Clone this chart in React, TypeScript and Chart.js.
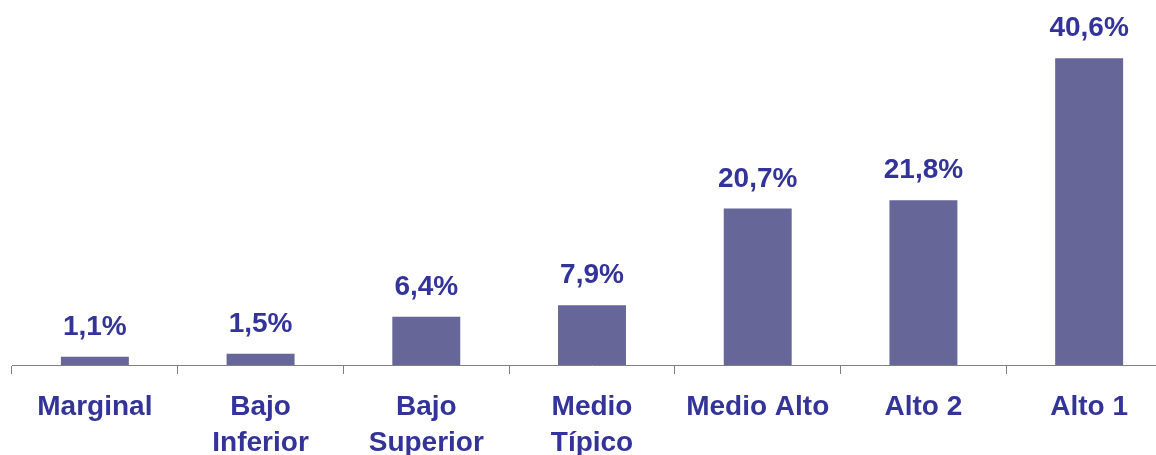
import React, { useEffect, useRef } from "react";
import { Chart, registerables } from "chart.js";

Chart.register(...registerables);

const categories: (string | string[])[] = [
  "Marginal",
  ["Bajo", "Inferior"],
  ["Bajo", "Superior"],
  ["Medio", "Típico"],
  "Medio Alto",
  "Alto 2",
  "Alto 1",
];
const values: number[] = [1.1, 1.5, 6.4, 7.9, 20.7, 21.8, 40.6];
const valueLabels: string[] = ["1,1%", "1,5%", "6,4%", "7,9%", "20,7%", "21,8%", "40,6%"];

const TEXT_COLOR = "#333399";
const BAR_COLOR = "#666699";
const FONT = "'Liberation Sans', Arial, sans-serif";

const valueLabelPlugin = {
  id: "valueLabels",
  afterDatasetsDraw(chart: any) {
    const ctx = chart.ctx;
    const meta = chart.getDatasetMeta(0);
    ctx.save();
    ctx.font = `bold 28px ${FONT}`;
    ctx.fillStyle = TEXT_COLOR;
    ctx.textAlign = "center";
    ctx.textBaseline = "alphabetic";
    meta.data.forEach((bar: any, i: number) => {
      ctx.fillText(valueLabels[i], bar.x, bar.y - 22);
    });
    ctx.restore();
  },
};

export default function App() {
  const ref = useRef<HTMLCanvasElement | null>(null);
  useEffect(() => {
    if (!ref.current) return;
    const chart = new Chart(ref.current, {
      type: "bar",
      data: {
        labels: categories,
        datasets: [
          {
            data: values,
            backgroundColor: BAR_COLOR,
            borderWidth: 0,
            barPercentage: 0.82,
            categoryPercentage: 0.5,
          },
        ],
      },
      options: {
        animation: false,
        responsive: false,
        maintainAspectRatio: false,
        layout: { padding: { left: 12, right: 8, top: 25, bottom: 0 } },
        plugins: { legend: { display: false }, tooltip: { enabled: false } },
        scales: {
          y: {
            display: false,
            min: 0,
            max: 45,
          },
          x: {
            offset: true,
            afterFit: (scale: any) => {
              scale.height = 90;
            },
            border: { display: true, color: "#808080", width: 1 },
            grid: {
              offset: true,
              drawOnChartArea: false,
              drawTicks: true,
              tickLength: 9,
              color: "#808080",
              lineWidth: 1,
            },
            ticks: {
              color: TEXT_COLOR,
              font: { family: FONT, size: 28, weight: "bold", lineHeight: 1.29 },
              padding: 15,
              maxRotation: 0,
              minRotation: 0,
              autoSkip: false,
            },
          },
        },
      },
      plugins: [valueLabelPlugin],
    });
    return () => chart.destroy();
  }, []);

  return (
    <div
      style={{
        position: "fixed",
        left: 0,
        top: 0,
        width: 1156,
        height: 455,
        overflow: "hidden",
        background: "#ffffff",
      }}
    >
      <canvas ref={ref} width={1180} height={455} style={{ display: "block", width: 1180, height: 455 }} />
    </div>
  );
}
